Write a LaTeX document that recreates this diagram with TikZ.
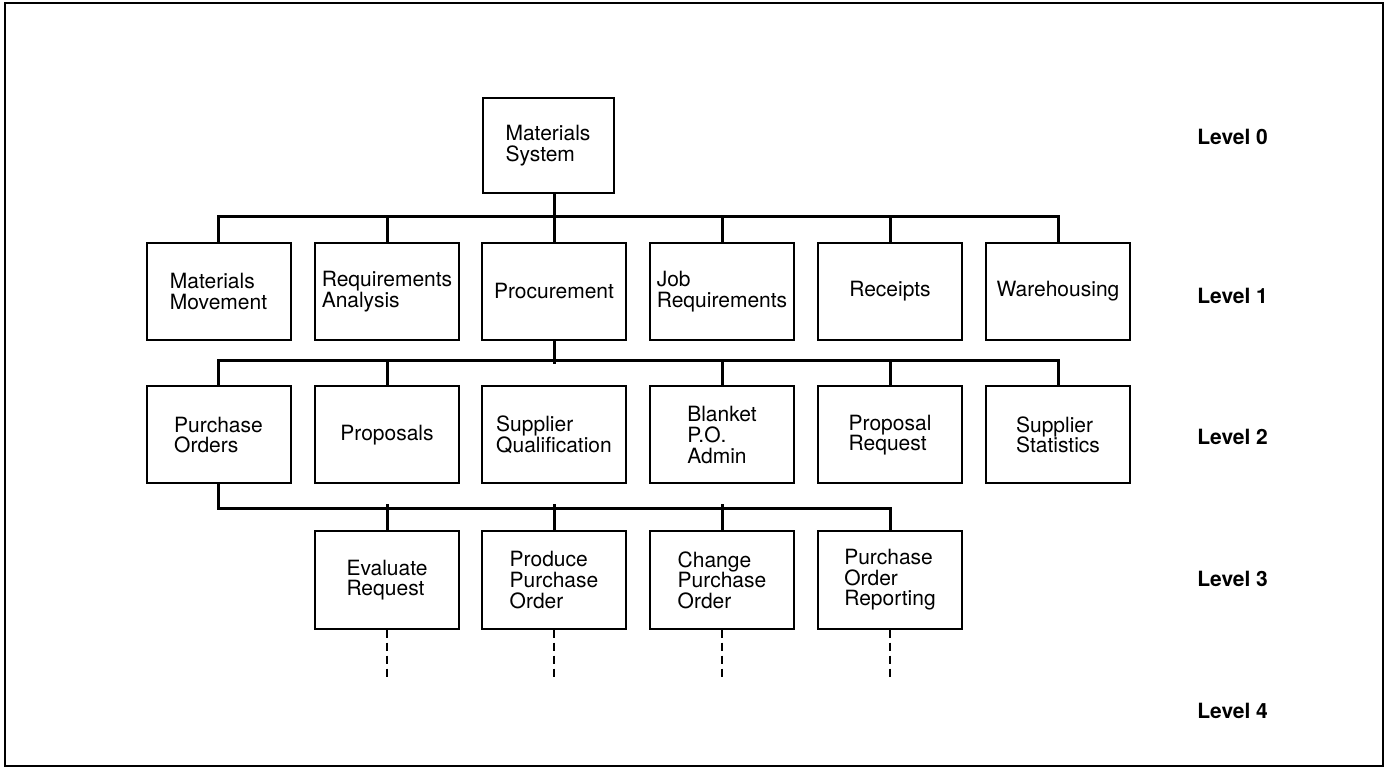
\documentclass[tikz,border=0pt]{standalone}
\usepackage{fontspec}
\setmainfont{TeX Gyre Heros}
\usepackage{tikz}
\usetikzlibrary{calc}

\begin{document}
\begin{tikzpicture}[x=0.5pt,y=-0.5pt,
  box/.style={draw,line width=1pt,minimum width=72pt,minimum height=48.5pt,inner sep=1pt,align=left,font=\fontsize{10.5pt}{10.3pt}\selectfont},
  link/.style={line width=1.5pt,line cap=rect},
  dlink/.style={line width=1.1pt,dash pattern=on 4pt off 2.5pt},
  lvl/.style={anchor=west,inner sep=0pt,font=\fontsize{10.5pt}{10.3pt}\selectfont\bfseries}]
\useasboundingbox (0,0) rectangle (1386,769);
\draw[line width=1.2pt] (5,3) rectangle (1383,766);

% level 0
\node[box,minimum width=65.5pt,minimum height=47.5pt] (r) at (548,145.5) {Materials\\System};

% level 1
\node[box] (a) at (218.5,291.5) {Materials\\Movement};
\node[box] (b) at (387,291.5) {Requirements\\Analysis};
\node[box] (c) at (554,291.5) {Procurement};
\node[box] (d) at (722,291.5) {Job\\Requirements};
\node[box] (e) at (890,291.5) {Receipts};
\node[box] (f) at (1058,291.5) {Warehousing};

% level 2
\node[box] (g) at (218.5,435) {Purchase\\Orders};
\node[box] (h) at (387,435) {Proposals};
\node[box] (i) at (554,435) {Supplier\\Qualification};
\node[box] (j) at (722,435) {Blanket\\P.O.\\Admin};
\node[box] (k) at (890,435) {Proposal\\Request};
\node[box] (l) at (1058,435) {Supplier\\Statistics};

% level 3
\node[box] (s1) at (387,580) {Evaluate\\Request};
\node[box] (s2) at (554,580) {Produce\\Purchase\\Order};
\node[box] (s3) at (722,580) {Change\\Purchase\\Order};
\node[box] (s4) at (890,580) {Purchase\\Order\\Reporting};

% connectors
\draw[link] (r.south -| c.north) -- (c.north);
\draw[link] (a.north) -- ++(0,-25) -| (f.north);
\draw[link] (b.north) -- ++(0,-25);
\draw[link] (d.north) -- ++(0,-25);
\draw[link] (e.north) -- ++(0,-25);

\draw[link] (c.south) -- ++(0,22);
\draw[link] (g.north) -- ++(0,-25) -| (l.north);
\draw[link] (h.north) -- ++(0,-25);
\draw[link] (j.north) -- ++(0,-25);
\draw[link] (k.north) -- ++(0,-25);

\draw[link] (g.south) -- ++(0,24) -| (s4.north);
\draw[link] (s1.north) -- ++(0,-25);
\draw[link] (s2.north) -- ++(0,-25);
\draw[link] (s3.north) -- ++(0,-25);

\draw[dlink] (s1.south) -- ++(0,49);
\draw[dlink] (s2.south) -- ++(0,49);
\draw[dlink] (s3.south) -- ++(0,49);
\draw[dlink] (s4.south) -- ++(0,49);

% level labels
\node[lvl] (l0) at (1197,137) {Level 0};
\node[lvl] (l1) at (1197,296) {Level 1};
\node[lvl] (l2) at (1197,437) {Level 2};
\node[lvl] (l3) at (1197,579) {Level 3};
\node[lvl] (l4) at (1197,711) {Level 4};
\end{tikzpicture}
\end{document}
